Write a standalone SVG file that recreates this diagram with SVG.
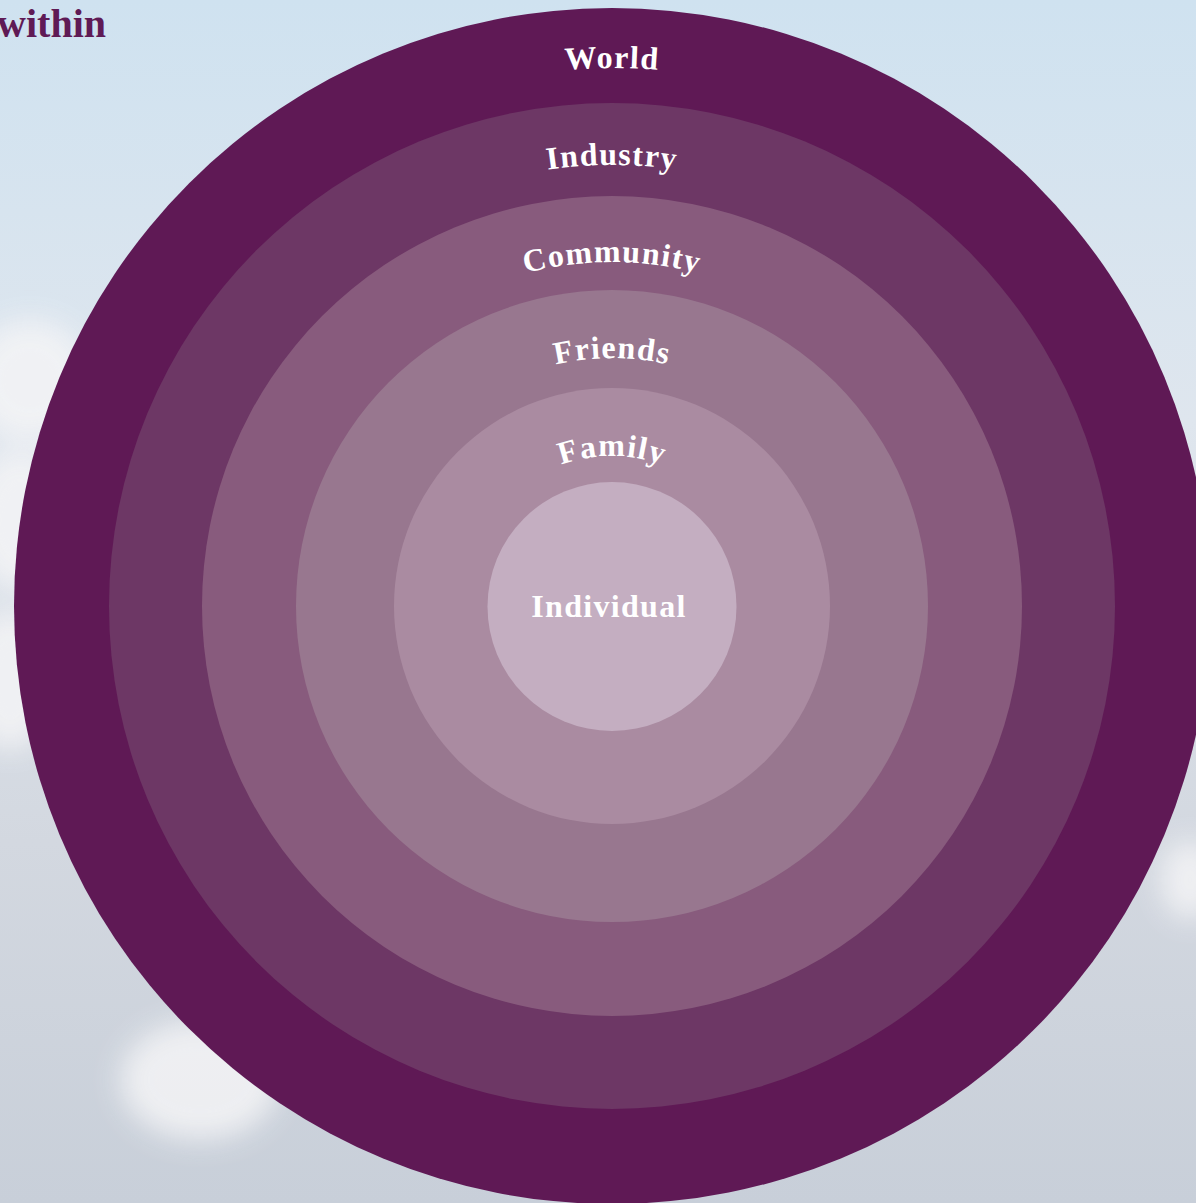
<svg xmlns="http://www.w3.org/2000/svg" width="1196" height="1203" viewBox="0 0 1196 1203">
  <style>
    .lbl { font-family: "Liberation Serif", "DejaVu Serif", serif; font-weight: bold; fill: #ffffff; font-size: 32px; letter-spacing: 1.3px; }
    .title { font-family: "Liberation Serif", "DejaVu Serif", serif; font-weight: bold; fill: #5f1a55; font-size: 40px; }
  </style>
  <defs>
    <linearGradient id="sky" x1="0" y1="0" x2="0" y2="1">
      <stop offset="0" stop-color="#cfe2f0"/>
      <stop offset="0.35" stop-color="#dfe6ee"/>
      <stop offset="0.7" stop-color="#d3d8e0"/>
      <stop offset="1" stop-color="#c8cfd9"/>
    </linearGradient>
    <filter id="blur" x="-50%" y="-50%" width="200%" height="200%">
      <feGaussianBlur stdDeviation="14"/>
    </filter>
    <path id="p1" d="M 74 606 A 538 538 0 0 1 1150 606"/>
    <path id="p2" d="M 171 606 A 441 441 0 0 1 1053 606"/>
    <path id="p3" d="M 268 606 A 344 344 0 0 1 956 606"/>
    <path id="p4" d="M 364 606 A 248 248 0 0 1 860 606"/>
    <path id="p5" d="M 462 606 A 150 150 0 0 1 762 606"/>
  </defs>
  <rect width="1196" height="1203" fill="url(#sky)"/>
  <g filter="url(#blur)" fill="#f4f4f6" opacity="0.85">
    <ellipse cx="30" cy="380" rx="60" ry="60"/>
    <ellipse cx="20" cy="520" rx="50" ry="70"/>
    <ellipse cx="10" cy="680" rx="45" ry="70"/>
    <ellipse cx="200" cy="1080" rx="80" ry="60"/>
    <ellipse cx="1190" cy="880" rx="30" ry="40"/>
  </g>
  <text class="title" x="106" y="37" text-anchor="end">within</text>
  <g id="world">
    <circle cx="612" cy="606" r="598" fill="#5f1955"/>
    <text class="lbl"><textPath href="#p1" startOffset="50%" text-anchor="middle">World</textPath></text>
  </g>
  <g id="industry">
    <circle cx="612" cy="606" r="503" fill="#6d3765"/>
    <text class="lbl"><textPath href="#p2" startOffset="50%" text-anchor="middle">Industry</textPath></text>
  </g>
  <g id="community">
    <circle cx="612" cy="606" r="410" fill="#885b7d"/>
    <text class="lbl"><textPath href="#p3" startOffset="50%" text-anchor="middle">Community</textPath></text>
  </g>
  <g id="friends">
    <circle cx="612" cy="606" r="316" fill="#98778f"/>
    <text class="lbl"><textPath href="#p4" startOffset="50%" text-anchor="middle">Friends</textPath></text>
  </g>
  <g id="family">
    <circle cx="612" cy="606" r="218" fill="#aa8ba1"/>
    <text class="lbl"><textPath href="#p5" startOffset="50%" text-anchor="middle">Family</textPath></text>
  </g>
  <g id="individual">
    <circle cx="612" cy="606.5" r="124.5" fill="#c4aec1"/>
    <text class="lbl" x="609" y="617" text-anchor="middle">Individual</text>
  </g>
  <g id="connectors"/>
</svg>
